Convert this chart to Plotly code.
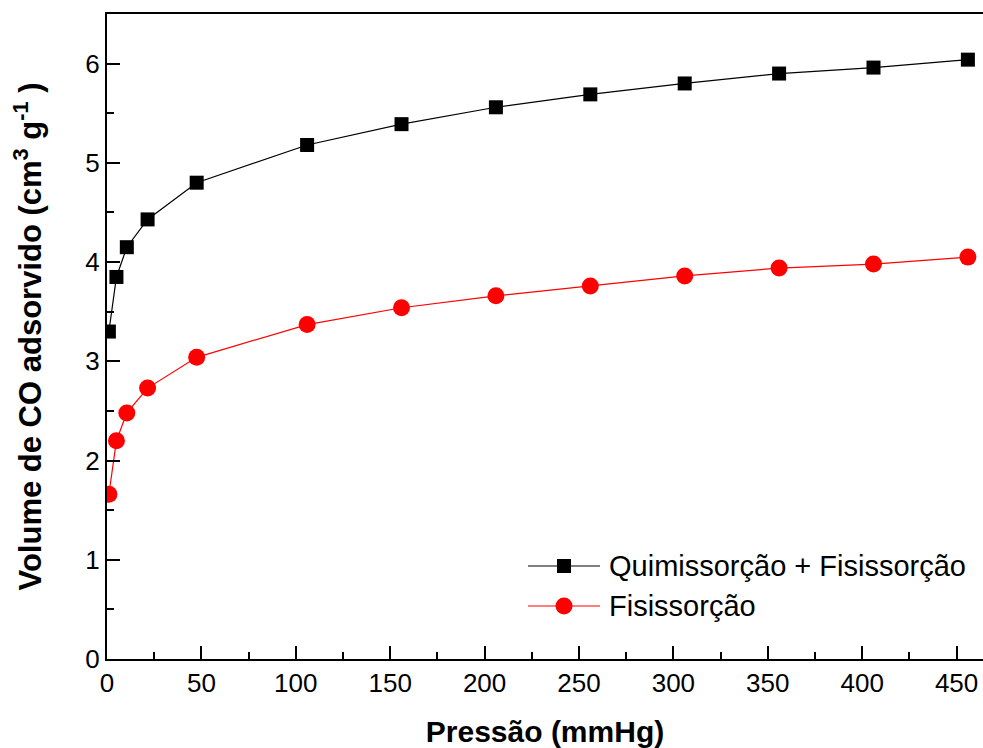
import plotly.graph_objects as go

pressao = [1, 5, 10.5, 21.5, 47.5, 106, 156, 206, 256, 306, 356, 406, 456]
quimi_fisi = [3.30, 3.85, 4.15, 4.43, 4.80, 5.18, 5.39, 5.56, 5.69, 5.80, 5.90, 5.96, 6.04]
fisi = [1.66, 2.20, 2.48, 2.73, 3.04, 3.37, 3.54, 3.66, 3.76, 3.86, 3.94, 3.98, 4.05]
series_names = ["Quimissorção + Fisissorção", "Fisissorção"]
series_colors = ["black", "red"]
series_symbols = ["square", "circle"]

FONT = "Arial, Liberation Sans, sans-serif"
W, H = 983, 748
ML, MR, MT, MB = 107, 0, 14, 89
PW, PH = W - ML - MR, H - MT - MB

def px_x(px):
    return (px - ML) / PW

def px_y(py):
    return (H - MB - py) / PH

fig = go.Figure()
for yv, name, col, sym, msize in zip([quimi_fisi, fisi], series_names, series_colors,
                                     series_symbols, [14, 17]):
    fig.add_trace(go.Scatter(x=pressao, y=yv, mode="lines+markers", name=name,
                             showlegend=False,
                             line=dict(color=col, width=1.2),
                             marker=dict(symbol=sym, size=msize, color=col)))

# custom legend (glyph: long line with marker in the middle)
shapes = []
annotations = []
for i, (name, col, sym) in enumerate(zip(series_names, series_colors, series_symbols)):
    yrow = px_y(566 + 40 * i)
    shapes.append(dict(type="line", xref="paper", yref="paper",
                       x0=px_x(528), x1=px_x(600), y0=yrow, y1=yrow,
                       line=dict(color=col, width=1.2)))
    half = 7 if sym == "square" else 8.5
    shapes.append(dict(type="rect" if sym == "square" else "circle",
                       xref="paper", yref="paper",
                       xsizemode="pixel", ysizemode="pixel",
                       xanchor=px_x(564), yanchor=yrow,
                       x0=-half, x1=half, y0=-half, y1=half,
                       fillcolor=col, line=dict(color=col, width=0)))
    annotations.append(dict(xref="paper", yref="paper", x=px_x(607), y=yrow,
                            xanchor="left", yanchor="middle", showarrow=False,
                            text=name, font=dict(size=29, family=FONT, color="black")))

fig.update_layout(
    width=W, height=H,
    margin=dict(l=ML, r=MR, t=MT, b=MB),
    plot_bgcolor="white", paper_bgcolor="white",
    font=dict(family=FONT, size=26, color="black"),
    showlegend=False,
    shapes=shapes, annotations=annotations,
)
fig.update_xaxes(range=[0, 464], showline=True, linewidth=2, linecolor="black",
                 mirror=True, ticks="inside", ticklen=13, tickwidth=2, tickcolor="black",
                 dtick=50, tick0=0, showgrid=False, zeroline=False,
                 minor=dict(ticks="inside", ticklen=7, tickwidth=2, dtick=25, tickcolor="black"),
                 tickfont=dict(size=26, family=FONT),
                 title=dict(text="<b>Pressão (mmHg)</b>", font=dict(size=30, family=FONT), standoff=26))
fig.update_yaxes(range=[0, 6.5], showline=True, linewidth=2, linecolor="black",
                 mirror=False, ticks="inside", ticklen=13, tickwidth=2, tickcolor="black",
                 dtick=1, tick0=0, showgrid=False, zeroline=False,
                 minor=dict(ticks="inside", ticklen=7, tickwidth=2, dtick=0.5, tickcolor="black"),
                 tickfont=dict(size=26, family=FONT),
                 title=dict(text="<b>Volume de CO adsorvido (cm<sup>3</sup> g<sup>-1</sup> )</b>",
                            font=dict(size=31, family=FONT), standoff=34))

fig.write_html("out.html")
